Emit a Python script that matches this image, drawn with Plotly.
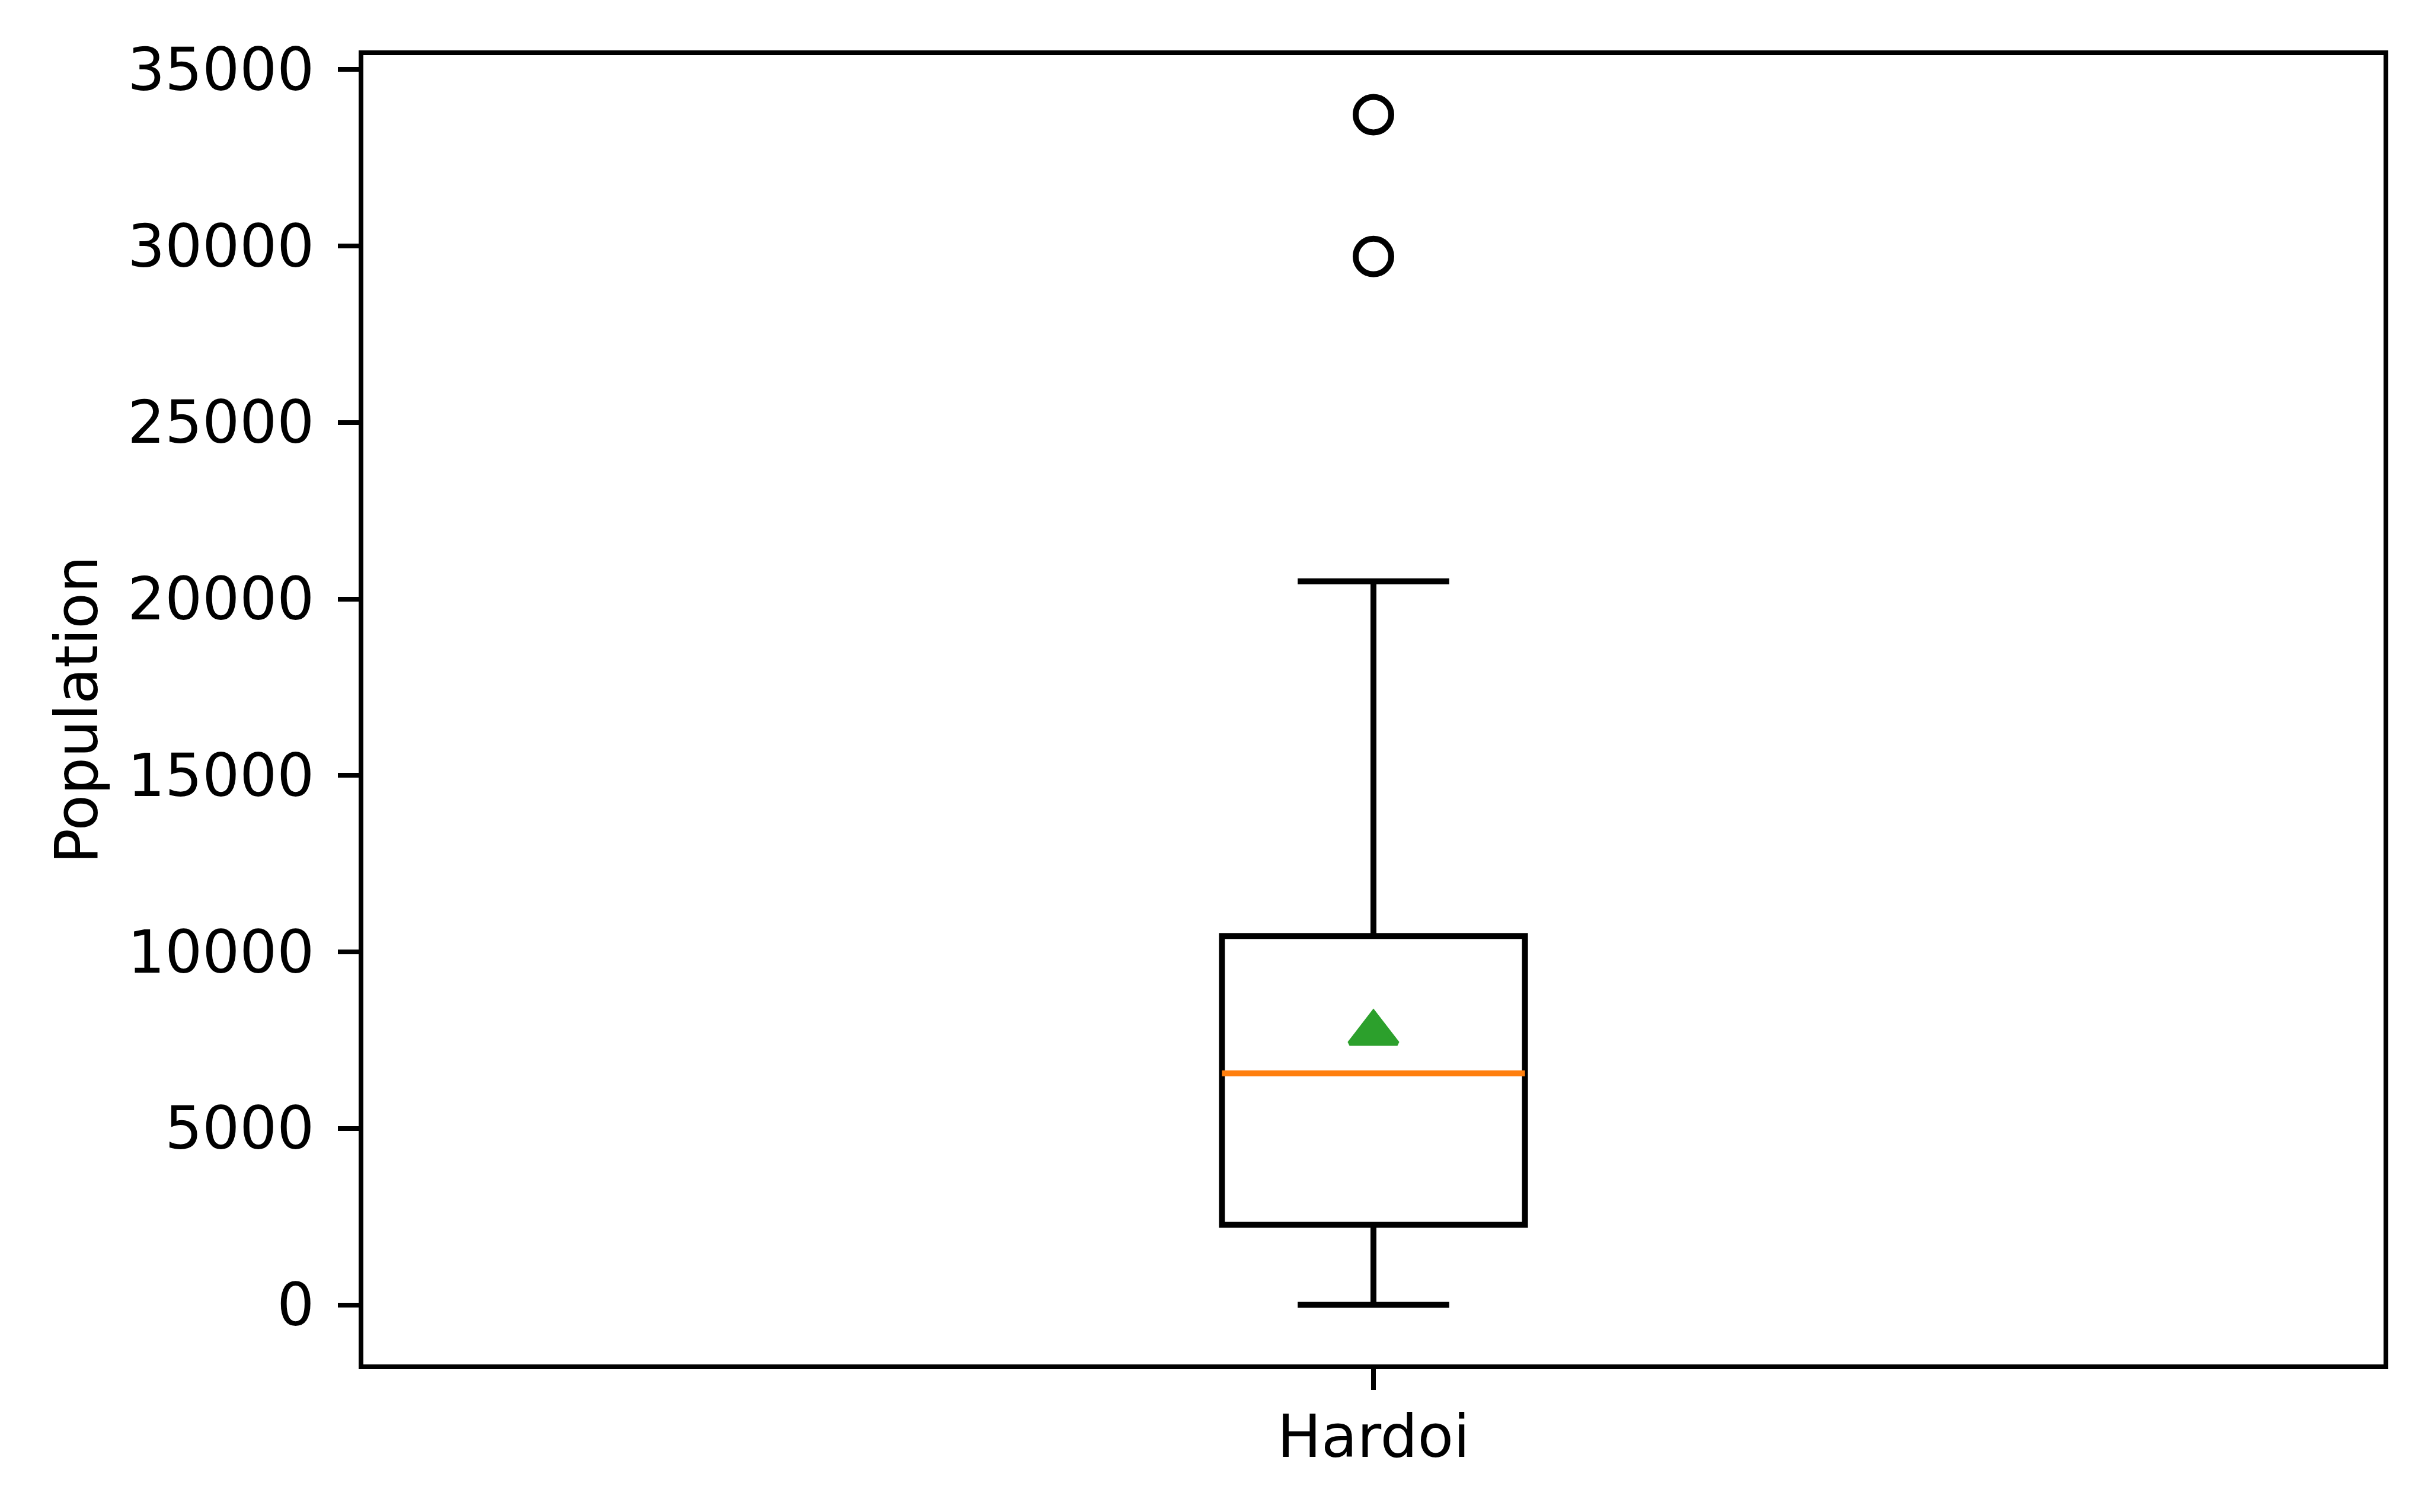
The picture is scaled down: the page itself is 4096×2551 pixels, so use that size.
import plotly.graph_objects as go

# ---- data ----
categories = ["Hardoi"]
positions = [1]
q1_vals = [2270]
median_vals = [6560]
q3_vals = [10450]
lower_whisker = [0]
upper_whisker = [20500]
mean_vals = [7700]
outlier_vals = [33720, 29700]
y_ticks = [0, 5000, 10000, 15000, 20000, 25000, 30000, 35000]
y_label = "Population"

BOX_WIDTH = 0.15
FONT = "DejaVu Sans"
FS = 99
LW = 10

fig = go.Figure()

fig.add_trace(go.Box(
    x=positions, q1=q1_vals, median=median_vals, q3=q3_vals,
    lowerfence=lower_whisker, upperfence=upper_whisker,
    width=BOX_WIDTH, whiskerwidth=0.5, boxpoints=False,
    fillcolor="rgba(0,0,0,0)", line=dict(color="black", width=LW),
    showlegend=False, hoverinfo="skip",
))

# median line in orange, spanning the box
for p, m in zip(positions, median_vals):
    fig.add_trace(go.Scatter(
        x=[p - BOX_WIDTH / 2, p + BOX_WIDTH / 2], y=[m, m], mode="lines",
        line=dict(color="#ff7f0e", width=LW), showlegend=False, hoverinfo="skip",
    ))

# fliers
fig.add_trace(go.Scatter(
    x=[positions[0]] * len(outlier_vals), y=outlier_vals, mode="markers",
    marker=dict(symbol="circle-open", size=60, color="black", line=dict(width=LW, color="black")),
    showlegend=False, hoverinfo="skip",
))

# mean marker
fig.add_trace(go.Scatter(
    x=positions, y=mean_vals, mode="markers",
    marker=dict(symbol="triangle-up", size=70, color="#2ca02c", line=dict(width=8, color="#2ca02c")),
    showlegend=False, hoverinfo="skip",
))

data_min = min(lower_whisker + outlier_vals)
data_max = max(upper_whisker + outlier_vals)
pad = 0.05 * (data_max - data_min)

axis_common = dict(
    showline=True, linecolor="black", linewidth=8, mirror=True,
    showgrid=False, zeroline=False,
    ticks="outside", ticklen=35, tickwidth=8, tickcolor="black",
    tickfont=dict(family=FONT, size=FS, color="black"),
    automargin=False,
)

fig.update_xaxes(
    range=[0.5, 1.5], tickmode="array", tickvals=positions, ticktext=categories,
    ticklabelstandoff=-6, **axis_common,
)
fig.update_yaxes(
    range=[data_min - pad, data_max + pad], tickmode="array", tickvals=y_ticks,
    ticktext=[str(v) for v in y_ticks], ticklabelstandoff=20,
    title=dict(text=y_label, font=dict(family=FONT, size=FS, color="black"), standoff=21),
    **axis_common,
)

fig.update_layout(
    width=4096, height=2551,
    margin=dict(l=613, r=75, t=93, b=249, pad=0),
    paper_bgcolor="white", plot_bgcolor="white",
    font=dict(family=FONT, size=FS, color="black"),
    template="none",
)

fig.write_html("out.html")
